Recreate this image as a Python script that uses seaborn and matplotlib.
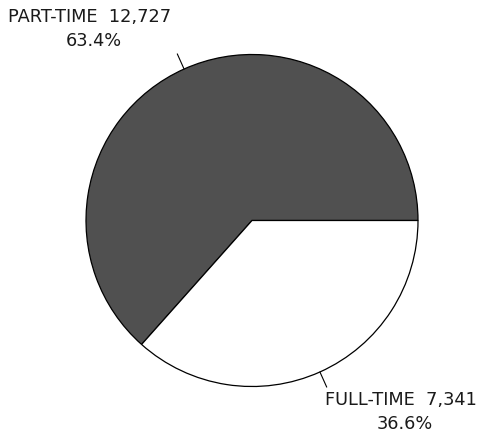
import numpy as np
import matplotlib
matplotlib.use("Agg")
import matplotlib.pyplot as plt
import seaborn as sns

sns.set_theme(style="white")
plt.rcParams['font.family'] = ['DejaVu Sans']

categories = ["PART-TIME", "FULL-TIME"]
counts = [12727, 7341]
percents = [63.4, 36.6]
colors = ["#505050", "#ffffff"]

W, H = 479, 436
R = 166.0  # pie radius in px
cx, cy = 252.0, 215.5  # pie center in px from bottom-left

fig = plt.figure(figsize=(W / 100, H / 100), dpi=100)
ax = fig.add_axes([0, 0, 1, 1])

wedges, _ = ax.pie(counts, colors=colors, startangle=0, counterclock=True,
                   wedgeprops=dict(edgecolor="black", linewidth=0.9))

# label text positions (px, from top) for each line
label_pos = [((90, 17), (94, 41)), ((401, 400), (405, 424))]

for w, cat, n, p, (l1, l2) in zip(wedges, categories, counts, percents, label_pos):
    mid = np.deg2rad((w.theta1 + w.theta2) / 2)
    x0, y0 = np.cos(mid), np.sin(mid)
    ax.plot([x0, 1.1 * x0], [y0, 1.1 * y0], color="black", lw=0.8)
    for (px, py), txt in ((l1, f"{cat}  {n:,}"), (l2, f"{p}%")):
        ax.text((px - cx) / R, (H - py - cy) / R, txt, ha="center", va="center",
                fontsize=12.8, color="#1a1a1a")

ax.set_xlim(-cx / R, (W - cx) / R)
ax.set_ylim(-cy / R, (H - cy) / R)
ax.set_aspect("equal")
ax.axis("off")

fig.savefig("out.png", dpi=100)
